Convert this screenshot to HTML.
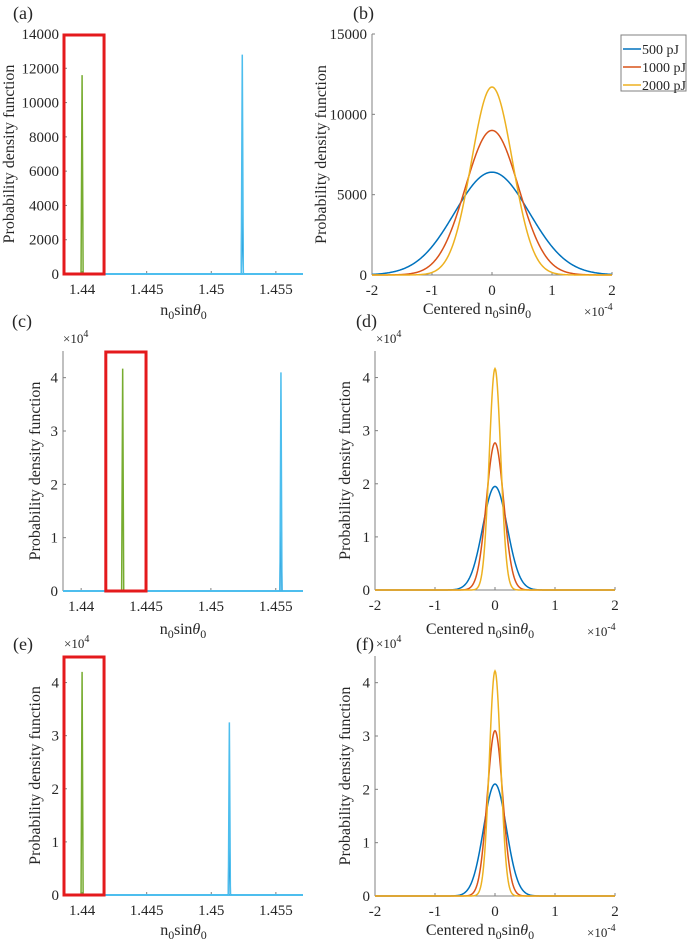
<!DOCTYPE html>
<html><head><meta charset="utf-8"><style>
html,body{margin:0;padding:0;background:#fff;}
svg, svg text{font-family:"Liberation Serif","DejaVu Serif",serif;}
svg{display:block;}
text{fill:#262626;}
</style></head><body>
<svg id="fig" width="687" height="944" viewBox="0 0 687 944" xmlns="http://www.w3.org/2000/svg" font-family="Liberation Serif, serif"></svg>
<script>
// ---- data ----
const spikeCenters = { a: [1.4400, 1.4524], c: [1.4432, 1.4554], e: [1.4400, 1.4514] };
const spikePeaks   = { a: [11600, 12800], c: [4.17, 4.10], e: [4.20, 3.25] };
const spikeTicksX  = [1.44, 1.445, 1.45, 1.455];
const spikeTickLabelsX = ["1.44", "1.445", "1.45", "1.455"];
const ticksA = [0, 2000, 4000, 6000, 8000, 10000, 12000, 14000];
const ticks4 = [0, 1, 2, 3, 4];
const boxRanges = { a: [1.4386, 1.4417], c: [1.4419, 1.4450], e: [1.4386, 1.4417] };
const seriesNames = ["500 pJ", "1000 pJ", "2000 pJ"];
const seriesColors = ["#0072BD", "#D95319", "#EDB120"];
const gaussPeaks  = { b: [6400, 9000, 11700], d: [1.95, 2.77, 4.17], f: [2.10, 3.10, 4.22] };
const gaussSigmas = { b: [0.623, 0.443, 0.341], d: [0.205, 0.144, 0.096], f: [0.190, 0.129, 0.0945] };
const gaussTicksX = [-2, -1, 0, 1, 2];
const ticksB = [0, 5000, 10000, 15000];

const NS = "http://www.w3.org/2000/svg";
const FONT = '"Liberation Serif", "DejaVu Serif", serif';
const svg = document.getElementById("fig");
function el(tag, attrs, parent) {
  const e = document.createElementNS(NS, tag);
  for (const k in attrs) e.setAttribute(k, attrs[k]);
  if (tag === "text") e.style.fontFamily = FONT;
  (parent || svg).appendChild(e);
  return e;
}
function txt(x, y, s, size, anchor, parent) {
  const t = el("text", { x: x, y: y, "font-size": size, "text-anchor": anchor || "middle" }, parent);
  t.textContent = s;
  return t;
}
function xlabelN(g, x, y, prefix) {
  const t = el("text", { x: x, y: y, "font-size": 16, "text-anchor": "middle" }, g);
  t.innerHTML = (prefix || "") + 'n<tspan dy="4" font-size="12">0</tspan><tspan dy="-4">sin</tspan><tspan font-style="italic">θ</tspan><tspan dy="4" font-size="12">0</tspan>';
  return t;
}
function ylabel(g, x, y) {
  const t = el("text", { x: 0, y: 0, "font-size": 16, "text-anchor": "middle", transform: `translate(${x},${y}) rotate(-90)` }, g);
  t.textContent = "Probability density function";
  return t;
}
function gauss(x, c, p, s) { return p * Math.exp(-0.5 * ((x - c) / s) ** 2); }

function axes(g, L, R, T, B) {
  el("line", { x1: L, y1: T, x2: L, y2: B, stroke: "#808080", "stroke-width": 1 }, g);
  el("line", { x1: L, y1: B, x2: R, y2: B, stroke: "#808080", "stroke-width": 1 }, g);
}

function spikePanel(key, letter, L, R, T, B, ymax, yticks, ytickLab, exp, labY, xlabY, ylx) {
  const g = el("g", {});
  
  
  const x0 = 1.4386, x1 = 1.4571;
  const sx = v => L + (v - x0) / (x1 - x0) * (R - L);
  const sy = v => B - v / ymax * (B - T);
  txt(L - 51, labY, "(" + letter + ")", 18, "start", g);
  axes(g, L, R, T, B);
  spikeTicksX.forEach((v, i) => {
    el("line", { x1: sx(v), y1: B, x2: sx(v), y2: B - 3, stroke: "#808080" }, g);
    txt(sx(v), B + 20, spikeTickLabelsX[i], 15, "middle", g);
  });
  yticks.forEach((v, i) => {
    el("line", { x1: L, y1: sy(v), x2: L + 3, y2: sy(v), stroke: "#808080" }, g);
    txt(L - 5, sy(v) + 5, ytickLab[i], 15, "end", g);
  });
  if (exp) {
    const t = el("text", { x: L, y: T - 8, "font-size": 13, "text-anchor": "start" }, g);
    t.innerHTML = '×10<tspan dy="-6" font-size="10">4</tspan>';
  }
  ylabel(g, ylx, (T + B) / 2);
  xlabelN(g, (L + R) / 2, xlabY);
  const cs = spikeCenters[key], ps = spikePeaks[key];
  const hw = 0.00008;
  el("line", { x1: L, y1: B, x2: R, y2: B, stroke: "#4DBEEE", "stroke-width": 2 }, g);
  const cols = ["#77AC30", "#4DBEEE"];
  cs.forEach((c, i) => {
    if (i === 1) {
      const p2 = el("path", { d: `M${sx(c - hw)},${B}L${sx(c)},${sy(ps[i] * 0.4)}L${sx(c + hw)},${B}`, fill: "none", stroke: "#0072BD", "stroke-width": 1.5 }, g);
      
      
    }
    const p = el("path", { d: `M${sx(c - hw)},${B}L${sx(c)},${sy(ps[i])}L${sx(c + hw)},${B}`, fill: "none", stroke: cols[i], "stroke-width": 1.5 }, g);
    
    
  });
  const br = boxRanges[key];
  const r = el("rect", { x: sx(br[0]), y: T + 1, width: sx(br[1]) - sx(br[0]), height: B - T - 1, fill: "none", stroke: "#E41A1C", "stroke-width": 3 }, g);
  
  
}

function gaussPanel(key, letter, L, R, T, B, ymax, yticks, ytickLab, exp, labY, xlabY, legend, ylx) {
  const g = el("g", {});
  
  
  const sx = v => L + (v + 2) / 4 * (R - L);
  const sy = v => B - v / ymax * (B - T);
  txt(L - 19, labY, "(" + letter + ")", 18, "start", g);
  axes(g, L, R, T, B);
  gaussTicksX.forEach(v => {
    el("line", { x1: sx(v), y1: B, x2: sx(v), y2: B - 3, stroke: "#808080" }, g);
    txt(sx(v), B + 20, String(v), 15, "middle", g);
  });
  yticks.forEach((v, i) => {
    el("line", { x1: L, y1: sy(v), x2: L + 3, y2: sy(v), stroke: "#808080" }, g);
    txt(L - 5, sy(v) + 5, ytickLab[i], 15, "end", g);
  });
  if (exp) {
    const t = el("text", { x: L + 1, y: T - 8, "font-size": 13, "text-anchor": "start" }, g);
    t.innerHTML = '×10<tspan dy="-6" font-size="10">4</tspan>';
  }
  ylabel(g, ylx, (T + B) / 2);
  xlabelN(g, (L + R) / 2 - 15, xlabY, "Centered ");
  const t2 = el("text", { x: R - 28, y: xlabY + 2, "font-size": 13, "text-anchor": "start" }, g);
  t2.innerHTML = '×10<tspan dy="-6" font-size="10">-4</tspan>';
  gaussPeaks[key].forEach((p, i) => {
    const s = gaussSigmas[key][i];
    let d = "";
    for (let k = 0; k <= 400; k++) { const x = -2 + k * 0.01; d += (k ? "L" : "M") + sx(x).toFixed(2) + "," + sy(gauss(x, 0, p, s)).toFixed(2); }
    const path = el("path", { d: d, fill: "none", stroke: seriesColors[i], "stroke-width": 1.5 }, g);
    
    
  });
  if (legend) {
    const lg = el("g", {}, g);
    
    
    el("rect", { x: 621, y: 35, width: 65, height: 56, fill: "#fff", stroke: "#808080" }, lg);
    seriesNames.forEach((n, i) => {
      const y = 49 + i * 18;
      el("line", { x1: 623, y1: y, x2: 641, y2: y, stroke: seriesColors[i], "stroke-width": 1.5 }, lg);
      txt(642, y + 5, n, 14, "start", lg);
    });
  }
}

spikePanel("a", "a", 64, 303, 34, 274, 14000, ticksA, ticksA.map(String), false, 19, 315, 14);
gaussPanel("b", "b", 372, 612, 34, 275, 15000, ticksB, ticksB.map(String), false, 19, 314, true, 326);
spikePanel("c", "c", 63, 303, 351, 591, 4.5, ticks4, ticks4.map(String), true, 327, 634, 40);
gaussPanel("d", "d", 375, 615, 351, 590, 4.5, ticks4, ticks4.map(String), true, 327, 634, false, 350);
spikePanel("e", "e", 64, 303, 656, 895, 4.5, ticks4, ticks4.map(String), true, 650, 935, 40);
gaussPanel("f", "f", 375, 615, 656, 896, 4.5, ticks4, ticks4.map(String), true, 650, 935, false, 350);
</script>
</body></html>
